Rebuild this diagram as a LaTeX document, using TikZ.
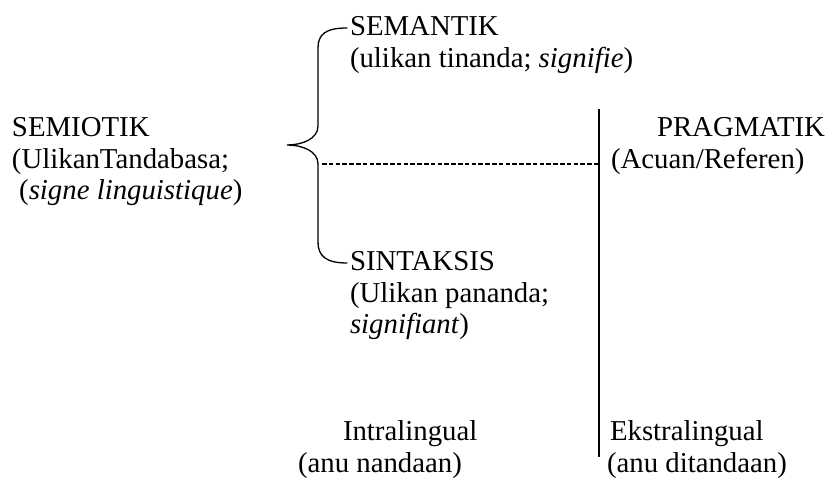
\documentclass[tikz,border=0pt]{standalone}
\usepackage{fontspec}
\setmainfont{Liberation Serif}
\newcommand{\lines}[1]{\begin{tabular}[t]{@{}l@{}}#1\end{tabular}}
\begin{document}
\begin{tikzpicture}[x=1pt,y=-1pt,
  txt/.style={anchor=base west, inner sep=0pt, outer sep=0pt,
              font=\fontsize{28.8}{31.5}\selectfont},
  rule/.style={line width=1.4pt},
  brace/.style={line width=1.3pt, line cap=round},
  guide/.style={line width=1.2pt, dash pattern=on 4.5pt off 2.3pt}]
\useasboundingbox (0,0) rectangle (836,478);

% text blocks
\node[txt] (semiotik) at (12,137)
  {\lines{SEMIOTIK\\(UlikanTandabasa;\\\ (\textit{signe linguistique})}};
\node[txt] (semantik) at (350,36)
  {\lines{SEMANTIK\\(ulikan tinanda; \textit{signifie})}};
\node[txt] (sintaksis) at (350,271)
  {\lines{SINTAKSIS\\(Ulikan pananda;\\\textit{signifiant})}};
\node[txt] (pragmatik) at (657,137) {PRAGMATIK};
\node[txt] (acuan) at (611,169) {(Acuan/Referen)};
\node[txt] (intra) at (343,441) {Intralingual};
\node[txt] (nandaan) at (298,472) {(anu nandaan)};
\node[txt] (ekstra) at (610,441) {Ekstralingual};
\node[txt] (ditandaan) at (607,472) {(anu ditandaan)};

% curly brace joining the two branches
\coordinate (btop) at (347,28);
\coordinate (btip) at (287,145);
\coordinate (bbot) at (347,263);
\draw[brace] (btop) .. controls (326,28) and (318,34) .. (318,48)
  -- (318,126) .. controls (318,139) and (302,145) .. (btip)
  .. controls (302,145) and (318,151) .. (318,164)
  -- (318,242) .. controls (318,256) and (326,263) .. (bbot);

% divider between intralingual and extralingual
\coordinate (vtop) at (599,109);
\coordinate (vbot) at (599,457);
\draw[rule] (vtop) -- (vbot);

% dashed link to the referent
\coordinate (dstart) at (322,164);
\draw[guide] (dstart) -- (dstart -| vtop);
\end{tikzpicture}
\end{document}
